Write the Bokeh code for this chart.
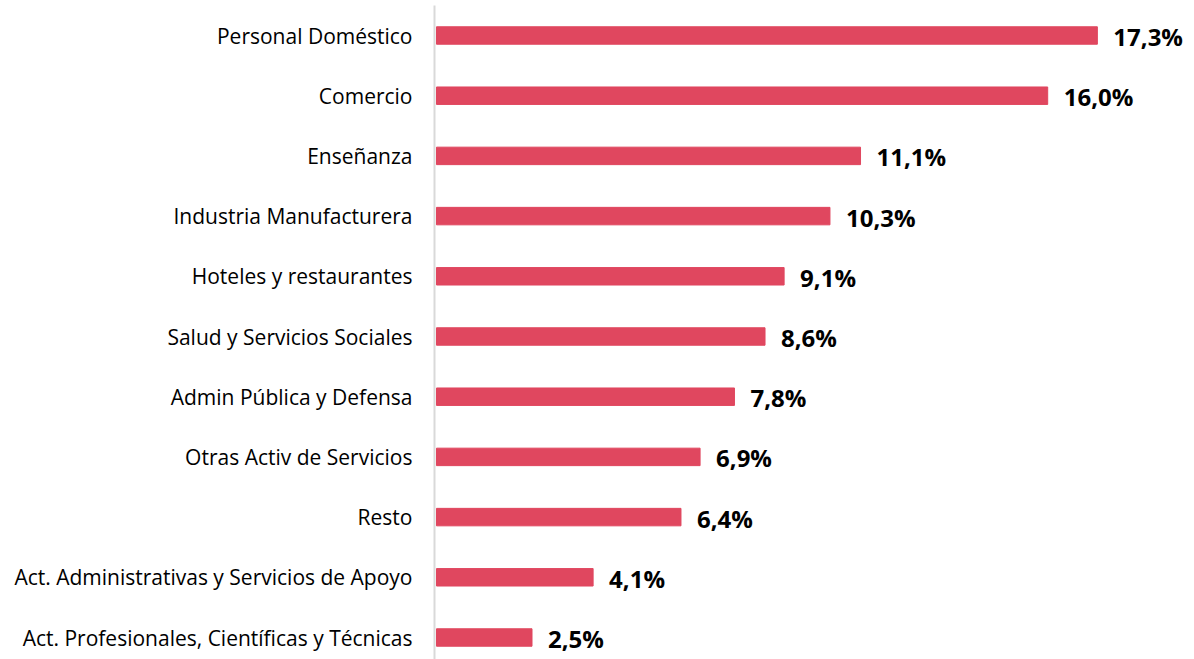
from bokeh.plotting import figure
from bokeh.models import Range1d, ColumnDataSource, FixedTicker
from bokeh.core.properties import value
from bokeh.embed import file_html
from bokeh.resources import INLINE

categories = [
    "Personal Doméstico",
    "Comercio",
    "Enseñanza",
    "Industria Manufacturera",
    "Hoteles y restaurantes",
    "Salud y Servicios Sociales",
    "Admin Pública y Defensa",
    "Otras Activ de Servicios",
    "Resto",
    "Act. Administrativas y Servicios de Apoyo",
    "Act. Profesionales, Científicas y Técnicas",
]
values = [17.3, 16.0, 11.1, 10.3, 9.1, 8.6, 7.8, 6.9, 6.4, 4.1, 2.5]

n = len(categories)
ypos = [n - 1 - i for i in range(n)]
labels = [f"{v:.1f}%".replace(".", ",") for v in values]

src = ColumnDataSource(dict(y=ypos, v=values, lab=labels, cat=categories))

W, H = 1194, 659
left = 434
border_top = 5
scale = 38.2
row = 60.2
top = (n - 1) + (35 - border_top) / row
bottom = top - (H - border_top) / row

p = figure(width=W, height=H, output_backend="svg", toolbar_location=None,
           x_range=Range1d(-2 / scale, (W - left - 2) / scale),
           y_range=Range1d(bottom, top),
           min_border_left=left, min_border_right=0,
           min_border_top=border_top, min_border_bottom=0)

p.hbar(y="y", left=0, right="v", height=0.29, color="#E0475F", source=src)
p.text(x="v", y="y", text="lab", source=src, x_offset=16, y_offset=1, text_baseline="middle",
       text_align="left", text_font=value("Open Sans"), text_font_style="bold",
       text_font_size="24px", text_color="#000000")

p.xaxis.visible = False
p.xgrid.visible = False
p.ygrid.visible = False
p.outline_line_color = None
p.background_fill_color = "white"
p.border_fill_color = "white"

yax = p.yaxis[0]
yax.ticker = FixedTicker(ticks=ypos)
yax.major_label_overrides = {y: c for y, c in zip(ypos, categories)}
yax.major_tick_line_color = None
yax.minor_tick_line_color = None
yax.major_tick_out = 0
yax.axis_line_color = "#D9D9D9"
yax.axis_line_width = 2
yax.major_label_standoff = 22
yax.major_label_text_font = "Open Sans"
yax.major_label_text_font_size = "21px"
yax.major_label_text_color = "#000000"

open("out.html", "w").write(file_html(p, INLINE))
